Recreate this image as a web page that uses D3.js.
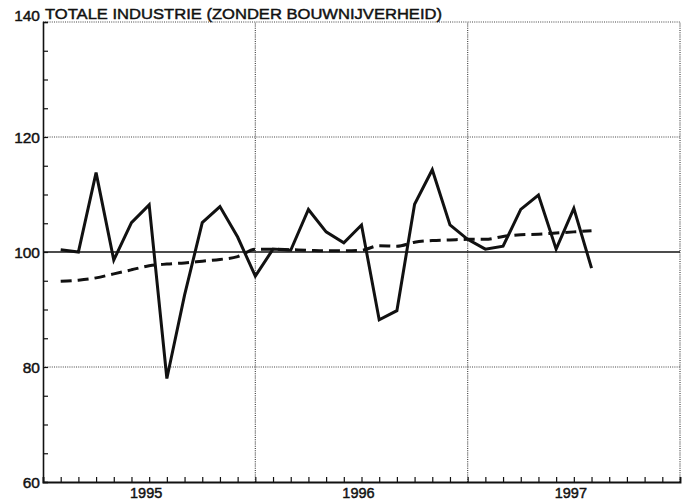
<!DOCTYPE html>
<html>
<head>
<meta charset="utf-8">
<script src="https://cdn.jsdelivr.net/npm/d3@7"></script>
<style>
  body { margin: 0; background: #fff; }
  text { font-family: "Liberation Sans", Arial, sans-serif; fill: #111; stroke: #111; stroke-width: 0.45px; }
</style>
</head>
<body>
<div id="chart"></div>
<script>
// maanden jan 1995 - jul 1997
var maanden = ["1995-01","1995-02","1995-03","1995-04","1995-05","1995-06","1995-07","1995-08","1995-09","1995-10","1995-11","1995-12",
  "1996-01","1996-02","1996-03","1996-04","1996-05","1996-06","1996-07","1996-08","1996-09","1996-10","1996-11","1996-12",
  "1997-01","1997-02","1997-03","1997-04","1997-05","1997-06","1997-07"];

// productie-index (doorgetrokken lijn)
var productie = [100.4, 100.0, 113.8, 98.6, 105.1, 108.2, 78.0, 92.5, 105.1, 107.9, 102.6, 95.8,
  100.5, 100.3, 107.4, 103.5, 101.6, 104.7, 88.2, 89.8, 108.3, 114.3, 104.7, 102.2,
  100.5, 101.0, 107.4, 109.9, 100.5, 107.6, 97.2];

// trend (gestreepte lijn)
var trend = [94.9, 95.1, 95.5, 96.2, 96.9, 97.6, 97.9, 98.1, 98.4, 98.7, 99.2, 100.5,
  100.5, 100.4, 100.3, 100.2, 100.2, 100.3, 101.1, 101.0, 101.7, 102.0, 102.1, 102.2,
  102.2, 102.7, 103.0, 103.1, 103.3, 103.5, 103.7];

var jaren = ["1995", "1996", "1997"];
var yTicks = [60, 80, 100, 120, 140];
var titel = "TOTALE INDUSTRIE (ZONDER BOUWNIJVERHEID)";

var W = 688, H = 503;
var margin = { top: 22, right: 8, bottom: 21, left: 43 };

var svg = d3.select("#chart").append("svg")
  .attr("width", W)
  .attr("height", H);

// month index -> x (value plotted at end of month)
var x = d3.scaleLinear().domain([0, 36]).range([margin.left, W - margin.right]);
var y = d3.scaleLinear().domain([60, 140]).range([H - margin.bottom, margin.top]);

var xPos = function (i) { return x(i + 1); };

// dotted grid: horizontal
svg.selectAll(".hgrid")
  .data([80, 120, 140])
  .join("line")
  .attr("class", "hgrid")
  .attr("x1", x(0)).attr("x2", x(36))
  .attr("y1", d => y(d)).attr("y2", d => y(d))
  .attr("stroke", "#444")
  .attr("stroke-width", 1.2)
  .attr("stroke-dasharray", "1,1.2");

// dotted grid: vertical (jaargrenzen + rechterkant)
svg.selectAll(".vgrid")
  .data([12, 24, 36])
  .join("line")
  .attr("class", "vgrid")
  .attr("x1", d => x(d)).attr("x2", d => x(d))
  .attr("y1", y(60)).attr("y2", y(140))
  .attr("stroke", "#444")
  .attr("stroke-width", 1.2)
  .attr("stroke-dasharray", "1,1.2");

// 100-lijn
svg.append("line")
  .attr("x1", x(0)).attr("x2", x(36))
  .attr("y1", y(100)).attr("y2", y(100))
  .attr("stroke", "#111")
  .attr("stroke-width", 1.7);

// y axis
var yAxis = svg.append("g")
  .attr("transform", `translate(${x(0)},0)`)
  .call(d3.axisLeft(y).tickValues(d3.range(60, 141, 5)).tickSize(-5).tickFormat(""));
yAxis.select(".domain").attr("stroke", "#111").attr("stroke-width", 1.6);
yAxis.selectAll(".tick line").attr("stroke", "#111").attr("stroke-width", 1.2);

svg.selectAll(".ylab")
  .data(yTicks)
  .join("text")
  .attr("class", "ylab")
  .attr("x", x(0) - 3)
  .attr("y", d => y(d) + (d === 140 ? -1 : 5.5))
  .attr("text-anchor", "end")
  .style("font-size", "15.5px")
  .text(d => d);

// x axis
var xAxis = svg.append("g")
  .attr("transform", `translate(0,${y(60)})`)
  .call(d3.axisBottom(x).tickValues(d3.range(1, 36)).tickSize(-5).tickFormat(""));
xAxis.select(".domain").attr("stroke", "#111").attr("stroke-width", 1.9);
xAxis.selectAll(".tick line").attr("stroke", "#111").attr("stroke-width", 1.2);

svg.selectAll(".xlab")
  .data(jaren)
  .join("text")
  .attr("class", "xlab")
  .attr("x", (d, i) => x(i * 12 + 6) - 3)
  .attr("y", H - 5)
  .attr("text-anchor", "middle")
  .style("font-size", "14.5px")
  .text(d => d);

// titel
svg.append("text")
  .attr("x", 45)
  .attr("y", 19)
  .style("font-size", "15px")
  .attr("textLength", 397)
  .attr("lengthAdjust", "spacingAndGlyphs")
  .text(titel);

// lijnen
var lijn = d3.line()
  .x((d, i) => xPos(i))
  .y(d => y(d));

svg.append("path")
  .datum(trend)
  .attr("fill", "none")
  .attr("stroke", "#111")
  .attr("stroke-width", 3)
  .attr("stroke-dasharray", "11,6")
  .attr("d", lijn.curve(d3.curveMonotoneX));

svg.append("path")
  .datum(productie)
  .attr("fill", "none")
  .attr("stroke", "#111")
  .attr("stroke-width", 3)
  .attr("stroke-linejoin", "miter")
  .attr("d", d3.line().x((d, i) => xPos(i)).y(d => y(d)));
</script>
</body>
</html>
